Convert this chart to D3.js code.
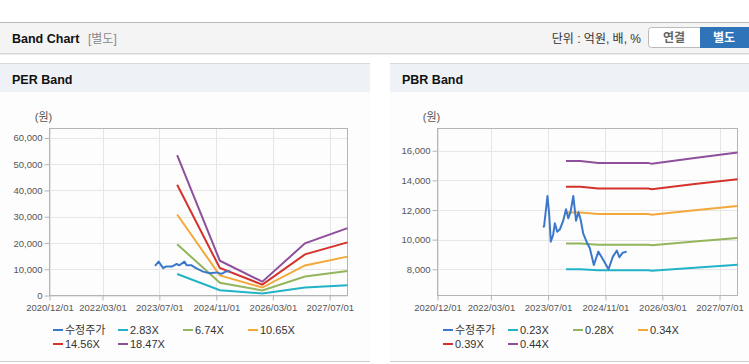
<!DOCTYPE html>
<html>
<head>
<meta charset="utf-8">
<script src="https://cdn.jsdelivr.net/npm/d3@7"></script>
<style>
  body { margin: 0; background: #fff; }
  svg { display: block; font-family: 'Liberation Sans', Arial, 'Noto Sans CJK KR', sans-serif; }
</style>
</head>
<body>
<div class="band-chart"></div>
<script>
const width = 749
const height = 364

const xTicks = ['2020/12/01', '2022/03/01', '2023/07/01', '2024/11/01', '2026/03/01', '2027/07/01']
const xRange = ['2020/12/01', '2027/12/01']

const perTicks = [0, 10000, 20000, 30000, 40000, 50000, 60000]
const pbrTicks = [8000, 10000, 12000, 14000, 16000]

const perMultiples = [2.83, 6.74, 10.65, 14.56, 18.47]
const pbrMultiples = [0.23, 0.28, 0.34, 0.39, 0.44]

// EPS / BPS used for the bands (band = multiple * base)
const eps = [
  ['2023/12/01', 2895],
  ['2024/12/01', 718],
  ['2025/12/01', 285],
  ['2026/12/01', 1075],
  ['2027/12/01', 1390]
]
const bps = [
  ['2023/12/01', 34800],
  ['2024/04/01', 34800],
  ['2024/09/01', 34500],
  ['2025/11/01', 34500],
  ['2025/12/01', 34350],
  ['2026/12/01', 35250],
  ['2027/12/01', 36100]
]

// 수정주가
const perPrice = [
  ['2023/05/25', 11300],
  ['2023/06/25', 12900],
  ['2023/08/03', 10400],
  ['2023/08/25', 11000],
  ['2023/10/15', 11000],
  ['2023/11/01', 11400],
  ['2023/11/27', 12000],
  ['2023/12/20', 11500],
  ['2024/02/01', 12900],
  ['2024/02/20', 11500],
  ['2024/04/03', 11500],
  ['2024/05/10', 10400],
  ['2024/07/10', 9100],
  ['2024/09/06', 8500],
  ['2024/11/04', 8800],
  ['2024/12/16', 8250],
  ['2025/01/20', 9100],
  ['2025/03/01', 9200]
]
const pbrPrice = [
  ['2023/05/20', 10833],
  ['2023/05/28', 10900],
  ['2023/06/26', 12944],
  ['2023/07/10', 11777],
  ['2023/07/24', 9862],
  ['2023/08/13', 10314],
  ['2023/08/28', 11100],
  ['2023/09/17', 10536],
  ['2023/10/10', 10698],
  ['2023/11/07', 11278],
  ['2023/12/01', 12047],
  ['2023/12/20', 11440],
  ['2024/01/09', 11885],
  ['2024/02/01', 12944],
  ['2024/02/24', 11278],
  ['2024/03/16', 11845],
  ['2024/04/03', 11373],
  ['2024/04/25', 10428],
  ['2024/05/24', 9862],
  ['2024/06/21', 9417],
  ['2024/07/25', 8290],
  ['2024/09/01', 9190],
  ['2024/10/14', 8627],
  ['2024/11/27', 8000],
  ['2025/01/03', 8850],
  ['2025/02/06', 9255],
  ['2025/02/28', 8810],
  ['2025/03/28', 9120],
  ['2025/05/01', 9190]
]

const theme = {
  price: '#3b78cc',
  bands: ['#22b3c6', '#93b55b', '#f4a83a', '#d5322c', '#8e4f9c'],
  grid: '#e6e6e6',
  frame: '#b4b4b4',
  tickText: '#555',
  panelHead: '#eef2f7'
}

const parse = d3.timeParse('%Y/%m/%d')

let svg

function appendSvg() {
  svg = d3.select('.band-chart')
    .append('svg')
    .attr('width', width)
    .attr('height', height)
    .attr('viewBox', `0 0 ${width} ${height}`)
}

function drawHeader() {
  svg.append('line')
    .attr('x1', 0).attr('x2', width).attr('y1', 22.5).attr('y2', 22.5)
    .attr('stroke', '#b8b8b8')
  svg.append('rect')
    .attr('x', 0).attr('y', 23).attr('width', width).attr('height', 30)
    .attr('fill', '#f4f4f4')
  svg.append('line')
    .attr('x1', 0).attr('x2', width).attr('y1', 53.5).attr('y2', 53.5)
    .attr('stroke', '#d6d6d6')
  svg.append('line')
    .attr('x1', 0).attr('x2', width).attr('y1', 54.5).attr('y2', 54.5)
    .attr('stroke', '#ececec')

  svg.append('text')
    .attr('x', 12).attr('y', 43)
    .attr('font-size', 12.5).attr('font-weight', 'bold').attr('fill', '#111')
    .text('Band Chart')
  svg.append('text')
    .attr('x', 88).attr('y', 43)
    .attr('font-size', 12).attr('fill', '#8a8a8a')
    .text('[별도]')

  svg.append('text')
    .attr('x', 641).attr('y', 43)
    .attr('text-anchor', 'end')
    .attr('font-size', 12).attr('fill', '#333')
    .text('단위 : 억원, 배, %')

  svg.append('rect')
    .attr('x', 648.5).attr('y', 27.5).attr('width', 60).attr('height', 20)
    .attr('rx', 3)
    .attr('fill', '#fff').attr('stroke', '#bbb')
  svg.append('text')
    .attr('x', 674).attr('y', 42)
    .attr('text-anchor', 'middle')
    .attr('font-size', 12).attr('font-weight', 'bold').attr('fill', '#666')
    .text('연결')

  svg.append('rect')
    .attr('x', 700).attr('y', 27).attr('width', 49).attr('height', 21)
    .attr('fill', '#2f74b8')
  svg.append('text')
    .attr('x', 724).attr('y', 42)
    .attr('text-anchor', 'middle')
    .attr('font-size', 12).attr('font-weight', 'bold').attr('fill', '#fff')
    .text('별도')
}

function drawPanel(cfg) {
  const g = svg.append('g').attr('class', 'band-panel')
  const left = cfg.x0
  const right = cfg.x1

  g.append('line')
    .attr('x1', left).attr('x2', right).attr('y1', 63.5).attr('y2', 63.5)
    .attr('stroke', '#d9d9d9')
  g.append('rect')
    .attr('x', left).attr('y', 64).attr('width', right - left).attr('height', 28.5)
    .attr('fill', theme.panelHead)
  g.append('rect')
    .attr('x', left).attr('y', 92.5).attr('width', right - left).attr('height', 269)
    .attr('fill', '#fdfdfd')
  g.append('line')
    .attr('x1', left).attr('x2', right).attr('y1', 361.5).attr('y2', 361.5)
    .attr('stroke', '#cfcfcf')

  g.append('text')
    .attr('x', left + 12).attr('y', 84)
    .attr('font-size', 12.5).attr('font-weight', 'bold').attr('fill', '#111')
    .text(cfg.title)

  const plot = cfg.plot
  const x = d3.scaleTime()
    .domain(xRange.map(parse))
    .range([plot.left, plot.right])
  const y = d3.scaleLinear()
    .domain(cfg.yDomain)
    .range([plot.bottom, plot.top])

  // grid
  g.append('g')
    .selectAll('line')
    .data(xTicks.map(parse))
    .join('line')
    .attr('x1', d => Math.round(x(d)) + 0.5)
    .attr('x2', d => Math.round(x(d)) + 0.5)
    .attr('y1', plot.top).attr('y2', plot.bottom)
    .attr('stroke', theme.grid)
  g.append('g')
    .selectAll('line')
    .data(cfg.yTicks)
    .join('line')
    .attr('x1', plot.left).attr('x2', plot.right)
    .attr('y1', d => Math.round(y(d)) + 0.5)
    .attr('y2', d => Math.round(y(d)) + 0.5)
    .attr('stroke', theme.grid)

  g.append('rect')
    .attr('x', plot.left).attr('y', plot.top)
    .attr('width', plot.right - plot.left).attr('height', plot.bottom - plot.top)
    .attr('fill', 'none').attr('stroke', theme.frame)

  const yAxis = d3.axisLeft(y)
    .tickValues(cfg.yTicks)
    .tickSize(5)
    .tickFormat(d3.format(','))
  const yg = g.append('g')
    .attr('transform', `translate(${plot.left},0)`)
    .call(yAxis)
  yg.select('.domain').remove()
  yg.selectAll('.tick line').attr('stroke', theme.frame)
  yg.selectAll('.tick text')
    .attr('font-size', 9.5).attr('fill', theme.tickText).attr('font-family', null)
    .attr('x', -7)

  const xAxis = d3.axisBottom(x)
    .tickValues(xTicks.map(parse))
    .tickSize(5)
    .tickFormat(d3.timeFormat('%Y/%m/%d'))
  const xg = g.append('g')
    .attr('transform', `translate(0,${plot.bottom})`)
    .call(xAxis)
  xg.select('.domain').remove()
  xg.selectAll('.tick line').attr('stroke', theme.frame)
  xg.selectAll('.tick text')
    .attr('font-size', 9.5).attr('fill', theme.tickText).attr('font-family', null)
    .attr('y', 9)

  g.append('text')
    .attr('x', plot.left - 6).attr('y', 121)
    .attr('text-anchor', 'middle')
    .attr('font-size', 11).attr('fill', '#555')
    .text('(원)')

  const line = d3.line()
    .x(d => x(parse(d[0])))
    .y(d => y(d[1]))

  const series = cfg.multiples.map((m, i) => ({
    name: cfg.labelFormat(m),
    color: theme.bands[i],
    values: cfg.base.map(b => [b[0], b[1] * m])
  }))

  g.append('g')
    .selectAll('path')
    .data(series)
    .join('path')
    .attr('d', d => line(d.values))
    .attr('fill', 'none')
    .attr('stroke', d => d.color)
    .attr('stroke-width', 2)

  g.append('path')
    .attr('d', line(cfg.price))
    .attr('fill', 'none')
    .attr('stroke', theme.price)
    .attr('stroke-width', 2)
    .attr('stroke-linejoin', 'round')

  // legend
  const items = [{ name: '수정주가', color: theme.price }].concat(series)
  const legend = g.append('g')
    .selectAll('g')
    .data(items)
    .join('g')
    .attr('transform', (d, i) => {
      const col = i % 4
      const row = Math.floor(i / 4)
      return `translate(${left + 53 + col * 65},${330 + row * 14})`
    })
  legend.append('line')
    .attr('x1', 0).attr('x2', 10).attr('y1', 0).attr('y2', 0)
    .attr('stroke', d => d.color).attr('stroke-width', 2)
  legend.append('text')
    .attr('x', 12).attr('y', 4)
    .attr('font-size', 11).attr('fill', '#333')
    .text(d => d.name)
}

function createChart() {
  appendSvg()
  drawHeader()

  drawPanel({
    title: 'PER Band',
    x0: 0,
    x1: 370,
    plot: { left: 49.5, right: 347.5, top: 128.5, bottom: 295.5 },
    yDomain: [0, 63600],
    yTicks: perTicks,
    multiples: perMultiples,
    base: eps,
    price: perPrice,
    labelFormat: m => m.toFixed(2) + 'X'
  })

  drawPanel({
    title: 'PBR Band',
    x0: 390,
    x1: width,
    plot: { left: 437.5, right: 737.5, top: 128.5, bottom: 295.5 },
    yDomain: [6230, 17500],
    yTicks: pbrTicks,
    multiples: pbrMultiples,
    base: bps,
    price: pbrPrice,
    labelFormat: m => m.toFixed(2) + 'X'
  })
}

createChart()
</script>
</body>
</html>
